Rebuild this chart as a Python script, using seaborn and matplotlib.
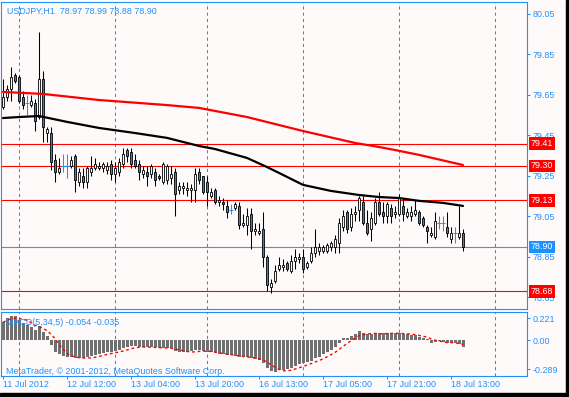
import matplotlib
matplotlib.use("Agg")
import matplotlib.pyplot as plt
import matplotlib.transforms as mtransforms
from matplotlib.patches import Rectangle
import numpy as np
import pandas as pd
import seaborn as sns

# USDJPY H1, 11-18 Jul 2012
opens = [79.59, 79.64, 79.68, 79.75, 79.74, 79.64, 79.61, 79.60, 79.61, 79.54,
         79.73, 79.46, 79.46, 79.33, 79.27, 79.30, 79.30, 79.30, 79.35, 79.22,
         79.25, 79.22, 79.27, 79.29, 79.29, 79.29, 79.28, 79.31, 79.26, 79.27,
         79.31, 79.38, 79.37, 79.33, 79.31, 79.26, 79.27, 79.26, 79.27, 79.25,
         79.22, 79.23, 79.24, 79.27, 79.18, 79.19, 79.18, 79.18, 79.18, 79.27,
         79.25, 79.22, 79.15, 79.18, 79.12, 79.12, 79.10, 79.08, 79.09, 79.10,
         79.01, 79.01, 79.06, 78.98, 78.97, 78.99, 78.85, 78.70, 78.73, 78.79,
         78.80, 78.82, 78.78, 78.83, 78.84, 78.85, 78.80, 78.83, 78.87, 78.88,
         78.88, 78.88, 78.90, 78.90, 78.92, 79.00, 79.07, 79.00, 79.06, 79.08,
         79.12, 79.02, 78.99, 79.02, 79.12, 79.07, 79.05, 79.09, 79.06, 79.06,
         79.10, 79.05, 79.05, 79.06, 79.07, 79.04, 79.00, 78.96, 78.95, 79.02,
         79.02, 79.00, 78.94, 78.97, 78.95, 78.97]
highs = [79.73, 79.70, 79.79, 79.76, 79.75, 79.67, 79.65, 79.65, 79.63, 79.96,
         79.77, 79.49, 79.49, 79.36, 79.34, 79.36, 79.36, 79.35, 79.36, 79.29,
         79.29, 79.30, 79.35, 79.34, 79.32, 79.32, 79.32, 79.33, 79.32, 79.34,
         79.39, 79.39, 79.39, 79.36, 79.33, 79.30, 79.30, 79.31, 79.29, 79.26,
         79.32, 79.31, 79.30, 79.29, 79.22, 79.22, 79.22, 79.21, 79.29, 79.29,
         79.25, 79.25, 79.19, 79.19, 79.15, 79.14, 79.13, 79.11, 79.12, 79.12,
         79.06, 79.09, 79.09, 79.02, 79.02, 79.07, 78.86, 78.74, 78.81, 78.85,
         78.84, 78.83, 78.86, 78.89, 78.87, 78.89, 78.83, 78.90, 78.99, 78.92,
         78.91, 78.92, 78.93, 78.96, 79.04, 79.08, 79.08, 79.09, 79.10, 79.15,
         79.15, 79.08, 79.07, 79.14, 79.17, 79.12, 79.12, 79.11, 79.10, 79.16,
         79.14, 79.09, 79.10, 79.13, 79.08, 79.05, 79.01, 79.00, 79.07, 79.05,
         79.05, 79.07, 79.00, 79.00, 79.10, 78.99]
lows = [79.58, 79.62, 79.62, 79.71, 79.61, 79.58, 79.55, 79.59, 79.47, 79.53,
        79.42, 79.42, 79.28, 79.22, 79.26, 79.27, 79.24, 79.29, 79.17, 79.20,
        79.19, 79.19, 79.25, 79.28, 79.28, 79.27, 79.26, 79.23, 79.22, 79.25,
        79.29, 79.32, 79.29, 79.29, 79.23, 79.24, 79.20, 79.24, 79.20, 79.23,
        79.21, 79.21, 79.21, 79.05, 79.16, 79.16, 79.15, 79.12, 79.12, 79.21,
        79.16, 79.10, 79.14, 79.11, 79.10, 79.08, 79.04, 79.06, 79.08, 78.99,
        79.00, 78.96, 78.89, 78.96, 78.96, 78.80, 78.68, 78.67, 78.72, 78.78,
        78.78, 78.78, 78.77, 78.79, 78.82, 78.77, 78.79, 78.82, 78.85, 78.86,
        78.87, 78.87, 78.88, 78.87, 78.87, 78.98, 78.97, 78.98, 79.03, 79.03,
        79.01, 78.96, 78.93, 79.01, 79.05, 79.02, 79.02, 79.02, 79.04, 79.05,
        79.03, 79.04, 79.03, 79.05, 79.01, 79.00, 78.92, 78.95, 78.94, 78.99,
        78.98, 78.95, 78.92, 78.92, 78.94, 78.88]
closes = [79.64, 79.68, 79.74, 79.72, 79.62, 79.60, 79.61, 79.62, 79.52, 79.73,
          79.49, 79.48, 79.32, 79.27, 79.29, 79.30, 79.30, 79.33, 79.23, 79.27,
          79.22, 79.29, 79.29, 79.31, 79.30, 79.31, 79.30, 79.26, 79.29, 79.32,
          79.36, 79.35, 79.31, 79.30, 79.27, 79.28, 79.25, 79.30, 79.23, 79.24,
          79.31, 79.30, 79.26, 79.16, 79.20, 79.20, 79.19, 79.19, 79.26, 79.23,
          79.17, 79.17, 79.17, 79.12, 79.13, 79.11, 79.07, 79.08, 79.11, 79.01,
          79.02, 79.05, 78.98, 78.99, 78.98, 78.85, 78.71, 78.72, 78.78, 78.81,
          78.81, 78.79, 78.83, 78.85, 78.85, 78.79, 78.82, 78.87, 78.90, 78.90,
          78.90, 78.91, 78.92, 78.94, 79.02, 79.05, 78.99, 79.06, 79.07, 79.14,
          79.02, 78.97, 79.04, 79.12, 79.06, 79.05, 79.11, 79.05, 79.07, 79.14,
          79.06, 79.07, 79.07, 79.08, 79.02, 79.01, 78.98, 78.97, 79.03, 79.02,
          79.02, 78.97, 78.97, 78.97, 78.97, 78.90]

# moving averages, sampled along the curves
ma_red_idx = [0, 10, 24, 41, 49, 61, 75, 88, 94, 98, 104, 115]
ma_red = [79.665, 79.655, 79.625, 79.600, 79.586, 79.541, 79.472, 79.413,
          79.393, 79.378, 79.354, 79.304]
ma_black_idx = [0, 4, 9, 16, 24, 33, 41, 49, 53, 61, 66, 69, 75, 82, 89, 94,
                99, 104, 110, 115]
ma_black = [79.536, 79.541, 79.546, 79.517, 79.487, 79.462, 79.438, 79.398,
            79.383, 79.339, 79.294, 79.265, 79.206, 79.176, 79.156, 79.146,
            79.141, 79.127, 79.117, 79.102]

# horizontal levels
red_levels = [79.41, 79.30, 79.13, 78.68]
bid_level = 78.90

# MACD(5,34,5) histogram
macd = [0.18, 0.22, 0.24, 0.24, 0.20, 0.17, 0.15, 0.13, 0.10, 0.14,
        0.08, 0.04, -0.05, -0.12, -0.14, -0.16, -0.17, -0.17, -0.18, -0.18,
        -0.18, -0.17, -0.16, -0.15, -0.14, -0.13, -0.12, -0.12, -0.11, -0.10,
        -0.08, -0.07, -0.06, -0.06, -0.07, -0.07, -0.07, -0.07, -0.07, -0.08,
        -0.08, -0.08, -0.08, -0.11, -0.12, -0.12, -0.12, -0.11, -0.10, -0.10,
        -0.11, -0.12, -0.12, -0.13, -0.14, -0.14, -0.15, -0.15, -0.16, -0.17,
        -0.17, -0.17, -0.18, -0.19, -0.20, -0.23, -0.28, -0.31, -0.32, -0.30,
        -0.30, -0.29, -0.28, -0.26, -0.24, -0.23, -0.22, -0.21, -0.18, -0.17,
        -0.14, -0.12, -0.10, -0.07, -0.03, 0.02, 0.02, 0.04, 0.06, 0.09,
        0.07, 0.06, 0.06, 0.07, 0.07, 0.07, 0.07, 0.07, 0.07, 0.07,
        0.06, 0.06, 0.05, 0.05, 0.03, 0.02, 0.01, -0.03, -0.02, -0.01,
        -0.02, -0.03, -0.03, -0.03, -0.04, -0.07]

price_ticks = [80.05, 79.85, 79.65, 79.45, 79.25, 79.05, 78.85, 78.65]
time_idx = [0, 16, 32, 48, 64, 80, 96, 112]
time_labels = ["11 Jul 2012", "12 Jul 12:00", "13 Jul 04:00", "13 Jul 20:00",
               "16 Jul 13:00", "17 Jul 05:00", "17 Jul 21:00", "18 Jul 13:00"]
grid_idx = [4, 28, 51, 75, 99, 123]

sns.set_theme(style="white")
plt.rcParams["font.family"] = ["Liberation Sans", "DejaVu Sans"]

BG = "#FFFAFA"
BLUE = "#1E90FF"
BODY = "#2A84DA"
FS = 6.4

fig = plt.figure(figsize=(5.69, 3.97), dpi=100, facecolor=BG)
ax = fig.add_axes([1 / 569, 88 / 397, 526 / 569, 307 / 397], facecolor=BG)
ax2 = fig.add_axes([1 / 569, 21 / 397, 526 / 569, 64 / 397], facecolor=BG)

df = pd.DataFrame({"open": opens, "high": highs, "low": lows, "close": closes})
df["i"] = np.arange(len(df))
doji = df["open"] == df["close"]
up = df["close"] > df["open"]
nd = df[~doji]
dj = df[doji]

# grid
for a in (ax, ax2):
    for g in grid_idx:
        a.axvline(g, color=BLUE, lw=0.75, ls=(0, (3, 3)), zorder=1)

for lvl in red_levels:
    ax.axhline(lvl, color="red", lw=0.8, zorder=2)
ax.axhline(bid_level, color="#778899", lw=0.8, zorder=2)

# candles
ax.vlines(nd["i"], nd["low"], nd["high"], color="black", lw=0.75, zorder=3)
ax.vlines(dj["i"], dj["low"], dj["high"], color=BLUE, lw=0.75, zorder=3)
ax.hlines(dj["close"], dj["i"] - 0.45, dj["i"] + 0.45, color=BLUE, lw=0.75, zorder=3)
body_lo = nd[["open", "close"]].min(axis=1)
body_h = (nd["close"] - nd["open"]).abs()
ax.bar(nd["i"], body_h, bottom=body_lo, width=0.6,
       color=np.where(up[~doji], BG, BODY), edgecolor="black", linewidth=0.6, zorder=4)

# moving averages
sns.lineplot(x=ma_red_idx, y=ma_red, ax=ax, color="red", lw=1.6, zorder=5)
sns.lineplot(x=ma_black_idx, y=ma_black, ax=ax, color="black", lw=1.6, zorder=5)

ax.set_xlim(-0.5, 131)
ax.set_ylim(78.593, 80.109)
ax.set_xticks([])
ax.set_yticks(price_ticks, [f"{p:.2f}" for p in price_ticks])
ax.tick_params(axis="y", left=False, right=True, labelleft=False, labelright=True,
               direction="out", length=2.2, width=0.75, color=BLUE,
               labelcolor=BLUE, labelsize=FS, pad=1.5)
ax.set_xlabel("")
ax.set_ylabel("")

trans = mtransforms.blended_transform_factory(ax.transAxes, ax.transData)
for lvl in red_levels:
    ax.text(1.007, lvl, f"{lvl:.2f}", transform=trans, color="white", fontsize=FS,
            va="center", ha="left", zorder=6, clip_on=False,
            bbox=dict(boxstyle="square,pad=0.2", fc="red", ec="none"))
ax.text(1.007, bid_level, f"{bid_level:.2f}", transform=trans, color="white",
        fontsize=FS, va="center", ha="left", zorder=6, clip_on=False,
        bbox=dict(boxstyle="square,pad=0.2", fc=BLUE, ec="none"))

ax.text(0.0114, 0.971, "USDJPY,H1  78.97 78.99 78.88 78.90", transform=ax.transAxes,
        color=BLUE, fontsize=FS, va="center", ha="left")

# MACD panel
sns.barplot(x=df["i"], y=macd, native_scale=True, color="#707070", saturation=1,
            width=0.75, linewidth=0, errorbar=None, ax=ax2, zorder=2)
signal = pd.Series(macd).rolling(5, min_periods=1).mean()
sns.lineplot(x=df["i"], y=signal, ax=ax2, color="red", lw=1.0,
             linestyle=(0, (2, 2)), zorder=3)

ax2.set_xlim(-0.5, 131)
ax2.set_ylim(-0.355, 0.283)
ax2.set_yticks([0.221, 0.0, -0.289], ["0.221", "0.00", "-0.289"])
ax2.set_xticks(time_idx, time_labels)
for lbl in ax2.get_xticklabels():
    lbl.set_ha("left")
ax2.tick_params(axis="y", left=False, right=True, labelleft=False, labelright=True,
                direction="out", length=2.2, width=0.75, color=BLUE,
                labelcolor=BLUE, labelsize=FS, pad=1.5)
ax2.tick_params(axis="x", bottom=True, direction="out", length=2.2, width=0.75,
                color=BLUE, labelcolor=BLUE, labelsize=FS, pad=1.0)
ax2.set_xlabel("")
ax2.set_ylabel("")

ax2.text(0.0095, 0.836, "MACD(5,34,5) -0.054 -0.035", transform=ax2.transAxes,
         color=BLUE, fontsize=FS, va="center", ha="left", zorder=6)
ax2.text(0.0095, 0.0625, "MetaTrader, \u00a9 2001-2012, MetaQuotes Software Corp.",
         transform=ax2.transAxes, color=BLUE, fontsize=FS, va="center", ha="left", zorder=6)

for a in (ax, ax2):
    for s in a.spines.values():
        s.set_visible(True)
        s.set_color(BLUE)
        s.set_linewidth(0.8)

# black frame on the right and bottom of the window
fig.add_artist(Rectangle((566 / 569, 0), 3 / 569, 1, transform=fig.transFigure,
                         color="black", zorder=10))
fig.add_artist(Rectangle((0, 0), 1, 4 / 397, transform=fig.transFigure,
                         color="black", zorder=10))

fig.savefig("out.png", dpi=100, facecolor=BG)
